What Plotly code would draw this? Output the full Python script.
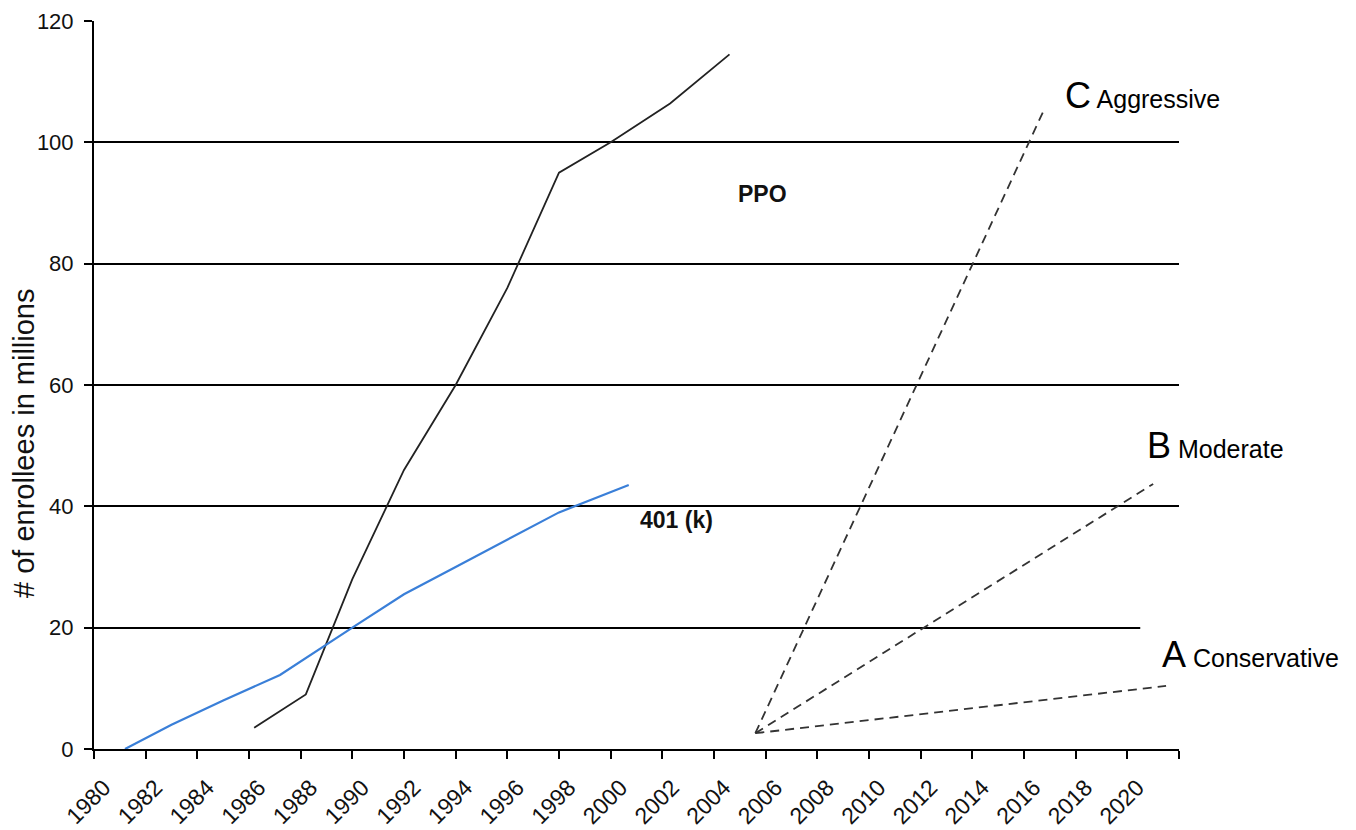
import plotly.graph_objects as go

# ---- data ----
ppo_years = [1986.2, 1988.2, 1990, 1992, 1994, 1996, 1998, 2000, 2002.3, 2004.6]
ppo_enrollees = [3.5, 9, 28, 46, 60, 76, 95, 100, 106.4, 114.5]

k401_years = [1981.2, 1983, 1985, 1987.2, 1990, 1992, 1994, 1996, 1998, 2000.7]
k401_enrollees = [0, 4, 8, 12.2, 20, 25.5, 30, 34.5, 39, 43.5]

scenario_start_year = 2005.6
scenario_start = 2.6
scenario_names = ["C Aggressive", "B Moderate", "A Conservative"]
scenario_end_years = [2016.8, 2021.0, 2021.5]
scenario_end_values = [105.6, 43.7, 10.4]

tick_years = list(range(1980, 2023, 2))
tick_labels = [str(y) if y <= 2020 else "" for y in tick_years]

FONT = "Liberation Sans, Arial, sans-serif"

fig = go.Figure()

fig.add_trace(go.Scatter(x=ppo_years, y=ppo_enrollees, mode="lines",
                         line=dict(color="#222222", width=1.8), name="PPO",
                         showlegend=False))
fig.add_trace(go.Scatter(x=k401_years, y=k401_enrollees, mode="lines",
                         line=dict(color="#3a7fd8", width=2.2), name="401 (k)",
                         showlegend=False))
for name, ex, ey in zip(scenario_names, scenario_end_years, scenario_end_values):
    fig.add_trace(go.Scatter(x=[scenario_start_year, ex], y=[scenario_start, ey],
                             mode="lines", name=name, showlegend=False,
                             line=dict(color="#333333", width=1.8, dash="9px,6px")))

# white label box covering the 20 gridline near "A Conservative"
fig.add_shape(type="rect", xref="x", yref="y", x0=2020.5, x1=2030, y0=11.2, y1=22.6,
              fillcolor="white", line=dict(width=0), layer="above")

ann = []
ann.append(dict(x=2005.86, y=91.5, text="<b>PPO</b>", showarrow=False,
                font=dict(size=23, color="#111", family=FONT), xanchor="center", yanchor="middle"))
ann.append(dict(x=2002.53, y=37.7, text="<b>401 (k)</b>", showarrow=False,
                font=dict(size=23, color="#111", family=FONT), xanchor="center", yanchor="middle"))
label_pos = [(2017.51, 107.8), (2020.69, 50.1), (2021.27, 15.5)]
for name, (lx, ly) in zip(scenario_names, label_pos):
    letter, word = name.split(" ", 1)
    ann.append(dict(x=lx, y=ly, showarrow=False, xanchor="left", yanchor="middle",
                    text=f"<span style='font-size:36px'>{letter}</span> {word}",
                    font=dict(size=25, color="black", family=FONT)))
ann.append(dict(xref="paper", yref="paper", x=-0.0645, y=0.419,
                text="# of enrollees in millions", textangle=-90, showarrow=False,
                xanchor="center", yanchor="middle", borderpad=0,
                font=dict(size=29, color="#111", family=FONT)))

fig.update_layout(
    width=1348, height=822,
    margin=dict(l=86, r=177, t=13, b=81, autoexpand=False),
    paper_bgcolor="white", plot_bgcolor="white",
    annotations=ann,
    showlegend=False,
)
fig.update_xaxes(range=[1980, 2022], tickvals=tick_years, ticktext=tick_labels,
                 tickangle=-45, ticks="outside", ticklen=8, tickwidth=2, tickcolor="black",
                 showline=True, linecolor="black", linewidth=2, showgrid=False, zeroline=False,
                 automargin=False, ticklabelshift=10, ticklabelstandoff=6,
                 tickfont=dict(size=23, color="#111", family=FONT))
fig.update_yaxes(range=[0, 120], dtick=20, ticks="outside", ticklen=8, tickwidth=2,
                 tickcolor="black", showline=True, linecolor="black", linewidth=2,
                 showgrid=True, gridcolor="black", gridwidth=2, zeroline=False,
                 automargin=False,
                 tickfont=dict(size=22, color="#111", family=FONT), ticklabelstandoff=6)

fig.write_html("out.html")
